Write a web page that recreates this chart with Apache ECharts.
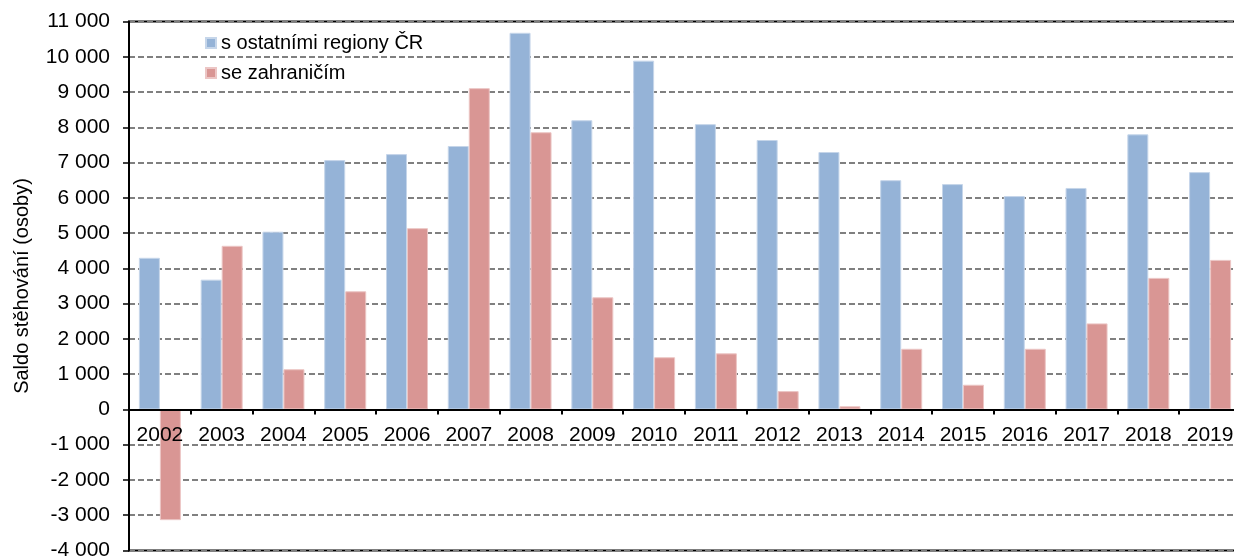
<!DOCTYPE html>
<html>
<head>
<meta charset="utf-8">
<script src="https://cdn.jsdelivr.net/npm/echarts@6/dist/echarts.min.js"></script>
<style>
html,body{margin:0;padding:0;background:#fff;}
#c{width:1234px;height:560px;}
</style>
</head>
<body>
<div id="c"></div>
<script>
const categories = ['2002','2003','2004','2005','2006','2007','2008','2009','2010','2011','2012','2013','2014','2015','2016','2017','2018','2019'];
const seriesNames = ['s ostatními regiony ČR', 'se zahraničím'];
const regionsCR = [4300, 3680, 5040, 7070, 7240, 7470, 10680, 8200, 9890, 8090, 7640, 7300, 6500, 6390, 6050, 6280, 7800, 6730];
const abroad = [-3140, 4640, 1140, 3350, 5140, 9110, 7860, 3180, 1480, 1590, 520, 90, 1720, 700, 1720, 2440, 3730, 4240];
const yName = 'Saldo stěhování (osoby)';
const yMin = -4000, yMax = 11000;

function fmt(v) {
  const neg = v < 0;
  const s = String(Math.abs(v)).replace(/\B(?=(\d{3})+(?!\d))/g, ' ');
  return (neg ? '-' : '') + s;
}

const W = 1234, H = 560;
const gTop = 21.5, gBottom = 9.5;
const gH = H - gTop - gBottom;
// distance from grid bottom to the zero line, used to lift the category axis onto zero
const zeroOffset = -gH * (0 - yMin) / (yMax - yMin);

const chart = echarts.init(document.getElementById('c'), null, {renderer: 'canvas'});
const font = '"Liberation Sans", Arial, sans-serif';
chart.setOption({
  animation: false,
  textStyle: {fontFamily: font},
  grid: {left: 129, right: -7, top: gTop, bottom: gBottom, show: true, borderColor: '#000', borderWidth: 2,
         backgroundColor: 'transparent', containLabel: false, outerBoundsMode: 'none'},
  legend: {
    orient: 'vertical', left: 200, top: 28, itemWidth: 10, itemHeight: 10, itemGap: 10,
    icon: 'rect',
    textStyle: {fontSize: 20, color: '#000', fontFamily: font},
    data: seriesNames
  },
  xAxis: {
    type: 'category', data: categories, position: 'bottom', offset: zeroOffset, z: 10,
    axisLine: {onZero: false, lineStyle: {color: '#000', width: 2}},
    axisTick: {show: true, length: 5, lineStyle: {color: '#000', width: 2}},
    axisLabel: {fontSize: 21, color: '#000', margin: 15, fontFamily: font},
    splitLine: {show: false}
  },
  yAxis: {
    type: 'value', min: yMin, max: yMax, interval: 1000,
    name: yName, nameLocation: 'middle', nameGap: 97, nameRotate: 90,
    nameTextStyle: {fontSize: 20, color: '#000', fontFamily: font},
    axisLine: {show: true, lineStyle: {color: '#000', width: 2}},
    axisTick: {show: true, length: 6, lineStyle: {color: '#000', width: 1.5}},
    axisLabel: {fontSize: 21, color: '#000', margin: 19, formatter: fmt, fontFamily: font},
    splitLine: {show: true, lineStyle: {color: '#808080', width: 2, type: [6, 3]}}
  },
  series: [
    {name: seriesNames[0], type: 'bar', data: regionsCR, barGap: '0%', barCategoryGap: '32%',
     itemStyle: {color: '#95b3d7', borderColor: '#c6d6ea', borderWidth: 1}},
    {name: seriesNames[1], type: 'bar', data: abroad,
     itemStyle: {color: '#d99694', borderColor: '#ecc6c5', borderWidth: 1}}
  ]
});
</script>
</body>
</html>
